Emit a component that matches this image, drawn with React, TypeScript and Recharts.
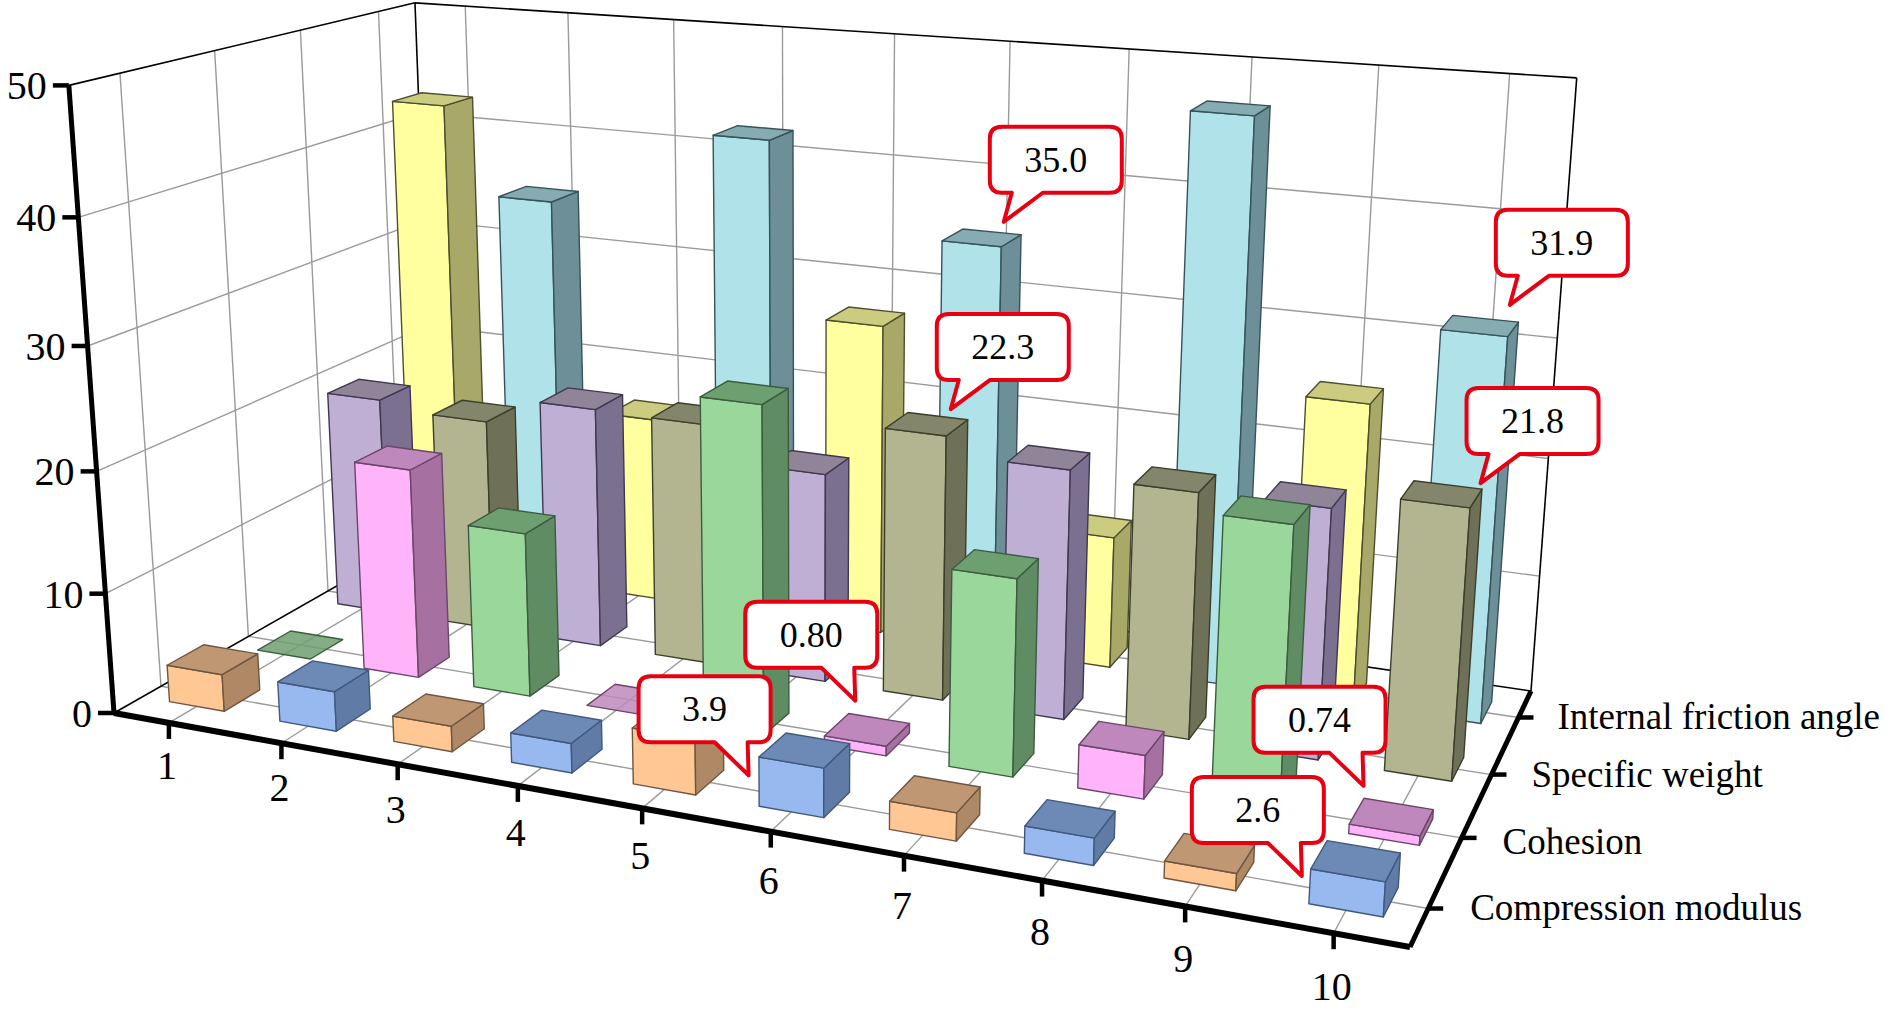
import { ScatterChart, Scatter, XAxis, YAxis, ReferenceLine } from "recharts";

// ---------------- data ----------------
const categories = ["1", "2", "3", "4", "5", "6", "7", "8", "9", "10"];
const rowNames = ["Compression modulus", "Cohesion", "Specific weight", "Internal friction angle"];
const valueTicks = [0, 10, 20, 30, 40, 50];

const compressionModulus = [3.1, 3.3, 2.1, 2.4, 4.5, 3.9, 2.2, 2.1, 1.3, 2.6];
const cohesion = [0.02, 17.8, 13.8, 0.02, 26.9, 0.8, 15.9, 3.5, 22.9, 0.74];
const specificWeight = [19.2, 18.5, 20.8, 20.7, 17.8, 22.3, 20.8, 20.3, 20.4, 21.8];
const frictionAngle = [42.6, 35.0, 16.5, 42.1, 27.2, 35.0, 11.4, 47.4, 25.3, 31.9];
const rows = [compressionModulus, cohesion, specificWeight, frictionAngle];

// callouts: category index, row index, text
const calloutLabels = [
  { cat: 5, row: 3, text: "35.0" },
  { cat: 5, row: 2, text: "22.3" },
  { cat: 9, row: 3, text: "31.9" },
  { cat: 9, row: 2, text: "21.8" },
  { cat: 5, row: 1, text: "0.80" },
  { cat: 5, row: 0, text: "3.9" },
  { cat: 9, row: 1, text: "0.74" },
  { cat: 9, row: 0, text: "2.6" },
];
// where each callout's tip lands relative to its bar top, and which way the box sits
const calloutNudge = [
  [22, -16, "up"],
  [24, -15, "up"],
  [30, -21, "up"],
  [39, -11, "up"],
  [-12, -29, "down"],
  [-56, 25, "down"],
  [-28, -31, "down"],
  [-54, 15, "down"],
];

// face colours: [front, top, side, edge], odd and even categories alternate
const palettes = [
  [["#FFC794", "#BF9873", "#AF8865", "#6E5640"], ["#98B9F0", "#6D89B5", "#5F7BA6", "#40587E"]],
  [["#9AD79A", "#6E9F70", "#5F8C63", "#3C5C40"], ["#FFB3F8", "#BE88BC", "#A670A0", "#6A4668"]],
  [["#BFAFD5", "#908498", "#7C7090", "#3F3850"], ["#B3B590", "#83866A", "#6E7058", "#3C3E2C"]],
  [["#FFFFA0", "#CCCC80", "#A8A868", "#4E4E30"], ["#B0E3E9", "#86ABB0", "#6D8F97", "#36525A"]],
];

// ---------------- 3D box projection ----------------
const W = 1890;
const H = 1013;
const FONT = "'Liberation Serif', serif";

// floor corners and the vanishing point of the verticals, in pixels
const floor = [[114, 713], [1410, 947], [1531, 691], [435, 530]];
const VP = [809, 10374];
const ZS = -0.00122;

const dx1 = floor[1][0] - floor[2][0];
const dx2 = floor[3][0] - floor[2][0];
const dy1 = floor[1][1] - floor[2][1];
const dy2 = floor[3][1] - floor[2][1];
const sx = floor[0][0] - floor[1][0] + floor[2][0] - floor[3][0];
const sy = floor[0][1] - floor[1][1] + floor[2][1] - floor[3][1];
const den = dx1 * dy2 - dx2 * dy1;
const g = (sx * dy2 - dx2 * sy) / den;
const h = (dx1 * sy - sx * dy1) / den;
const a = floor[1][0] - floor[0][0] + g * floor[1][0];
const b = floor[3][0] - floor[0][0] + h * floor[3][0];
const d = floor[1][1] - floor[0][1] + g * floor[1][1];
const e = floor[3][1] - floor[0][1] + h * floor[3][1];

function project(u: number, v: number, z: number) {
  const w = 1 + g * u + h * v + ZS * z;
  return {
    x: (a * u + b * v + floor[0][0] + ZS * z * VP[0]) / w,
    y: (d * u + e * v + floor[0][1] + ZS * z * VP[1]) / w,
  };
}

const uOf = (i: number) => (i + 0.5) / categories.length;
const vOf = (j: number) => (j + 0.5) / rows.length;
const HALF_U = 0.025;
const HALF_V = 0.05;
// the back wall's top edge runs a little higher towards the right
const topZ = (u: number) => 50 + 0.8 * u;
const rowLabelDy = [0, 5, 1, 1];

const poly = (pts: { x: number; y: number }[], ox: number, oy: number) =>
  pts.map((p) => `${p.x + ox},${p.y + oy}`).join(" ");

function Box3D(props: any) {
  const { cx, cy, payload } = props;
  const { u, v, z, colors } = payload;
  const base = project(u, v, 0);
  const ox = cx - base.x;
  const oy = cy - base.y;
  const u0 = u - HALF_U;
  const u1 = u + HALF_U;
  const v0 = v - HALF_V;
  const v1 = v + HALF_V;
  const front = [project(u0, v0, 0), project(u1, v0, 0), project(u1, v0, z), project(u0, v0, z)];
  const side = [project(u1, v0, 0), project(u1, v1, 0), project(u1, v1, z), project(u1, v0, z)];
  const top = [project(u0, v0, z), project(u1, v0, z), project(u1, v1, z), project(u0, v1, z)];
  const common = { stroke: colors[3], strokeWidth: 1.4, strokeLinejoin: "round" as const };
  const flat = z < 0.1;
  return (
    <g>
      {!flat && <polygon points={poly(front, ox, oy)} fill={colors[0]} {...common} />}
      {!flat && <polygon points={poly(side, ox, oy)} fill={colors[2]} {...common} />}
      <polygon points={poly(top, ox, oy)} fill={colors[1]} fillOpacity={flat ? 0.85 : 1} {...common} />
    </g>
  );
}

function Callout(props: any) {
  const { cx, cy, payload } = props;
  const { text, kind } = payload;
  const bw = 132;
  const bh = 66;
  const r = 12;
  // box corners, tail position depends on the kind of callout
  const left = kind === "up" ? cx - 14 : cx + 22 - bw;
  const bottom = kind === "up" ? cy - 29 : cy - 33;
  const right = left + bw;
  const topY = bottom - bh;
  const t0 = kind === "up" ? cx + 8 : cx - 34;
  const t1 = kind === "up" ? cx + 39 : cx - 1;
  const d0 =
    `M${left + r},${topY} H${right - r} Q${right},${topY} ${right},${topY + r} ` +
    `V${bottom - r} Q${right},${bottom} ${right - r},${bottom} H${t1} L${cx},${cy} L${t0},${bottom} ` +
    `H${left + r} Q${left},${bottom} ${left},${bottom - r} V${topY + r} Q${left},${topY} ${left + r},${topY} Z`;
  return (
    <g>
      <path d={d0} fill="#FFFFFF" stroke="#E60012" strokeWidth={4} strokeLinejoin="round" />
      <text
        x={(left + right) / 2}
        y={(topY + bottom) / 2 + 12}
        textAnchor="middle"
        fontFamily={FONT}
        fontSize={36}
        fill="#000"
      >
        {text}
      </text>
    </g>
  );
}

function TickText(props: any) {
  const { cx, cy, payload } = props;
  return (
    <text x={cx} y={cy} textAnchor={payload.anchor} fontFamily={FONT} fontSize={payload.size} fill="#000">
      {payload.text}
    </text>
  );
}

// ---------------- series built from the arrays ----------------
const barRows = rows.map((values, j) =>
  values.map((val, i) => {
    const p = project(uOf(i), vOf(j), 0);
    return { x: p.x, y: p.y, u: uOf(i), v: vOf(j), z: val, colors: palettes[j][i % 2] };
  })
);

const calloutData = calloutLabels.map((c, k) => {
  const p = project(uOf(c.cat), vOf(c.row), rows[c.row][c.cat]);
  const [nx, ny, kind] = calloutNudge[k];
  return { x: p.x + (nx as number), y: p.y + (ny as number), text: c.text, kind };
});

const tickTexts = [
  ...valueTicks.map((t) => {
    const p = project(0, 0, t);
    return { x: p.x - 22, y: p.y + 14, text: String(t), anchor: "end", size: 40 };
  }),
  ...categories.map((c, i) => {
    const p = project(uOf(i), 0, 0);
    return { x: p.x - 2, y: p.y + 56 + 11 * uOf(i), text: c, anchor: "middle", size: 40 };
  }),
  ...rowNames.map((n, j) => {
    const p = project(1, vOf(j), 0);
    return { x: p.x + 39 + (3 - j), y: p.y + 11 + rowLabelDy[j], text: n, anchor: "start", size: 37 };
  }),
];

type Seg = { from: number[]; to: number[]; color: string; width: number };
const P = (s: number[]) => project(s[0], s[1], s[2]);
const GRID = "#9A9A9A";

const gridSegs: Seg[] = [
  ...categories.map((_, i) => ({ from: [uOf(i), 0, 0], to: [uOf(i), 1, 0], color: GRID, width: 1.4 })),
  ...rows.map((_, j) => ({ from: [0, vOf(j), 0], to: [1, vOf(j), 0], color: GRID, width: 1.4 })),
  ...categories.map((_, i) => ({ from: [uOf(i), 1, 0], to: [uOf(i), 1, topZ(uOf(i))], color: GRID, width: 1.4 })),
  ...rows.map((_, j) => ({ from: [0, vOf(j), 0], to: [0, vOf(j), 50], color: GRID, width: 1.4 })),
  ...valueTicks.slice(1, -1).map((t) => ({ from: [0, 0, t], to: [0, 1, t], color: GRID, width: 1.4 })),
  ...valueTicks.slice(1, -1).map((t) => ({ from: [0, 1, t], to: [1, 1, t], color: GRID, width: 1.4 })),
  // thin outline of the walls and the floor
  { from: [0, 0, 50], to: [0, 1, 50], color: "#000", width: 1.6 },
  { from: [0, 1, 50], to: [1, 1, topZ(1)], color: "#000", width: 1.6 },
  { from: [0, 1, 0], to: [0, 1, 50], color: "#000", width: 1.6 },
  { from: [1, 1, 0], to: [1, 1, topZ(1)], color: "#000", width: 1.6 },
  { from: [0, 0, 0], to: [0, 1, 0], color: "#000", width: 1.6 },
  { from: [0, 1, 0], to: [1, 1, 0], color: "#000", width: 1.6 },
  // heavy axes
  { from: [0, 0, 0], to: [0, 0, 50], color: "#000", width: 5 },
  { from: [0, 0, 0], to: [1, 0, 0], color: "#000", width: 6 },
  { from: [1, 0, 0], to: [1, 1, 0], color: "#000", width: 5 },
];

const tickSegs = [
  ...valueTicks.map((t) => {
    const p = project(0, 0, t);
    return [p, { x: p.x - 16, y: p.y }];
  }),
  ...categories.map((_, i) => {
    const p = project(uOf(i), 0, 0);
    return [p, { x: p.x, y: p.y + 16 }];
  }),
  ...rows.map((_, j) => {
    const p = project(1, vOf(j), 0);
    return [p, { x: p.x + 15, y: p.y }];
  }),
];

export default function App() {
  return (
    <div style={{ position: "absolute", left: 0, top: 0, width: W, height: H, background: "#fff" }}>
      <ScatterChart width={W} height={H} margin={{ top: 0, right: 0, bottom: 0, left: 0 }}>
        <XAxis type="number" dataKey="x" domain={[0, W]} hide />
        <YAxis type="number" dataKey="y" domain={[0, H]} reversed hide />
        {gridSegs.map((s, i) => (
          <ReferenceLine
            key={`grid-${i}`}
            segment={[P(s.from), P(s.to)]}
            stroke={s.color}
            strokeWidth={s.width}
          />
        ))}
        {tickSegs.map((s, i) => (
          <ReferenceLine key={`tick-${i}`} segment={s} stroke="#000" strokeWidth={4.5} />
        ))}
        {[3, 2, 1, 0].map((j) => (
          <Scatter
            key={rowNames[j]}
            name={rowNames[j]}
            data={barRows[j]}
            shape={Box3D}
            isAnimationActive={false}
          />
        ))}
        <Scatter name="ticks" data={tickTexts} shape={TickText} isAnimationActive={false} />
        <Scatter name="callouts" data={calloutData} shape={Callout} isAnimationActive={false} />
      </ScatterChart>
    </div>
  );
}
